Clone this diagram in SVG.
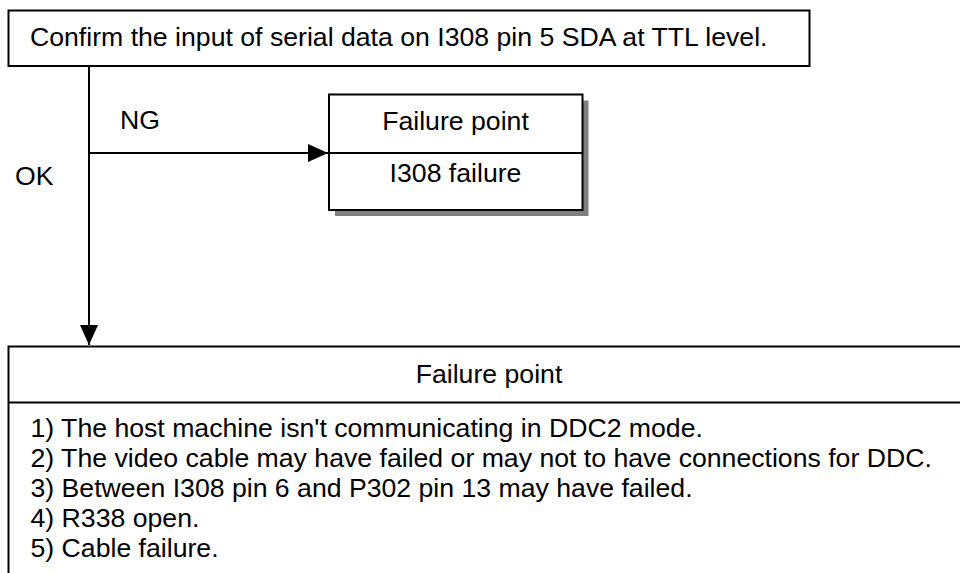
<svg xmlns="http://www.w3.org/2000/svg" width="960" height="573" viewBox="0 0 960 573">
<style>
text{font-family:"Liberation Sans",Arial,sans-serif;font-size:26.65px;fill:#000}
.box{fill:#fff;stroke:#000;stroke-width:2}
.ln{fill:none;stroke:#000;stroke-width:2}
.mid{text-anchor:middle}
</style>
<defs>
<marker id="arr" markerUnits="userSpaceOnUse" markerWidth="20" markerHeight="18" refX="20" refY="9" orient="auto">
<path d="M0,0 L20,9 L0,18 Z" fill="#000"/>
</marker>
</defs>
<rect width="960" height="573" fill="#fff"/>
<g id="connectors">
<path class="ln" d="M89,66 V345" marker-end="url(#arr)"/>
<path class="ln" d="M89,153 H328" marker-end="url(#arr)"/>
<text x="120" y="129">NG</text>
<text x="15" y="185">OK</text>
</g>
<g id="check">
<rect class="box" x="8.5" y="10.5" width="801" height="55.5"/>
<text x="30" y="45.5">Confirm the input of serial data on I308 pin 5 SDA at TTL level.</text>
</g>
<g id="failure1">
<rect x="335" y="100.5" width="253.5" height="115.5" fill="#808080"/>
<rect class="box" x="329" y="94.5" width="253.5" height="115.5"/>
<line class="ln" x1="329" y1="153" x2="582.5" y2="153"/>
<text class="mid" x="455.5" y="130">Failure point</text>
<text class="mid" x="455.5" y="182">I308 failure</text>
</g>
<g id="failure2">
<path class="box" d="M975,346.5 H8.5 V590 H975 Z"/>
<line class="ln" x1="8.5" y1="402.5" x2="975" y2="402.5"/>
<text class="mid" x="489" y="382.5">Failure point</text>
<text x="30.5" y="436.7">1) The host machine isn't communicating in DDC2 mode.</text>
<text x="30.5" y="466.7">2) The video cable may have failed or may not to have connections for DDC.</text>
<text x="30.5" y="496.7">3) Between I308 pin 6 and P302 pin 13 may have failed.</text>
<text x="30.5" y="526.7">4) R338 open.</text>
<text x="30.5" y="556.7">5) Cable failure.</text>
</g>
</svg>
